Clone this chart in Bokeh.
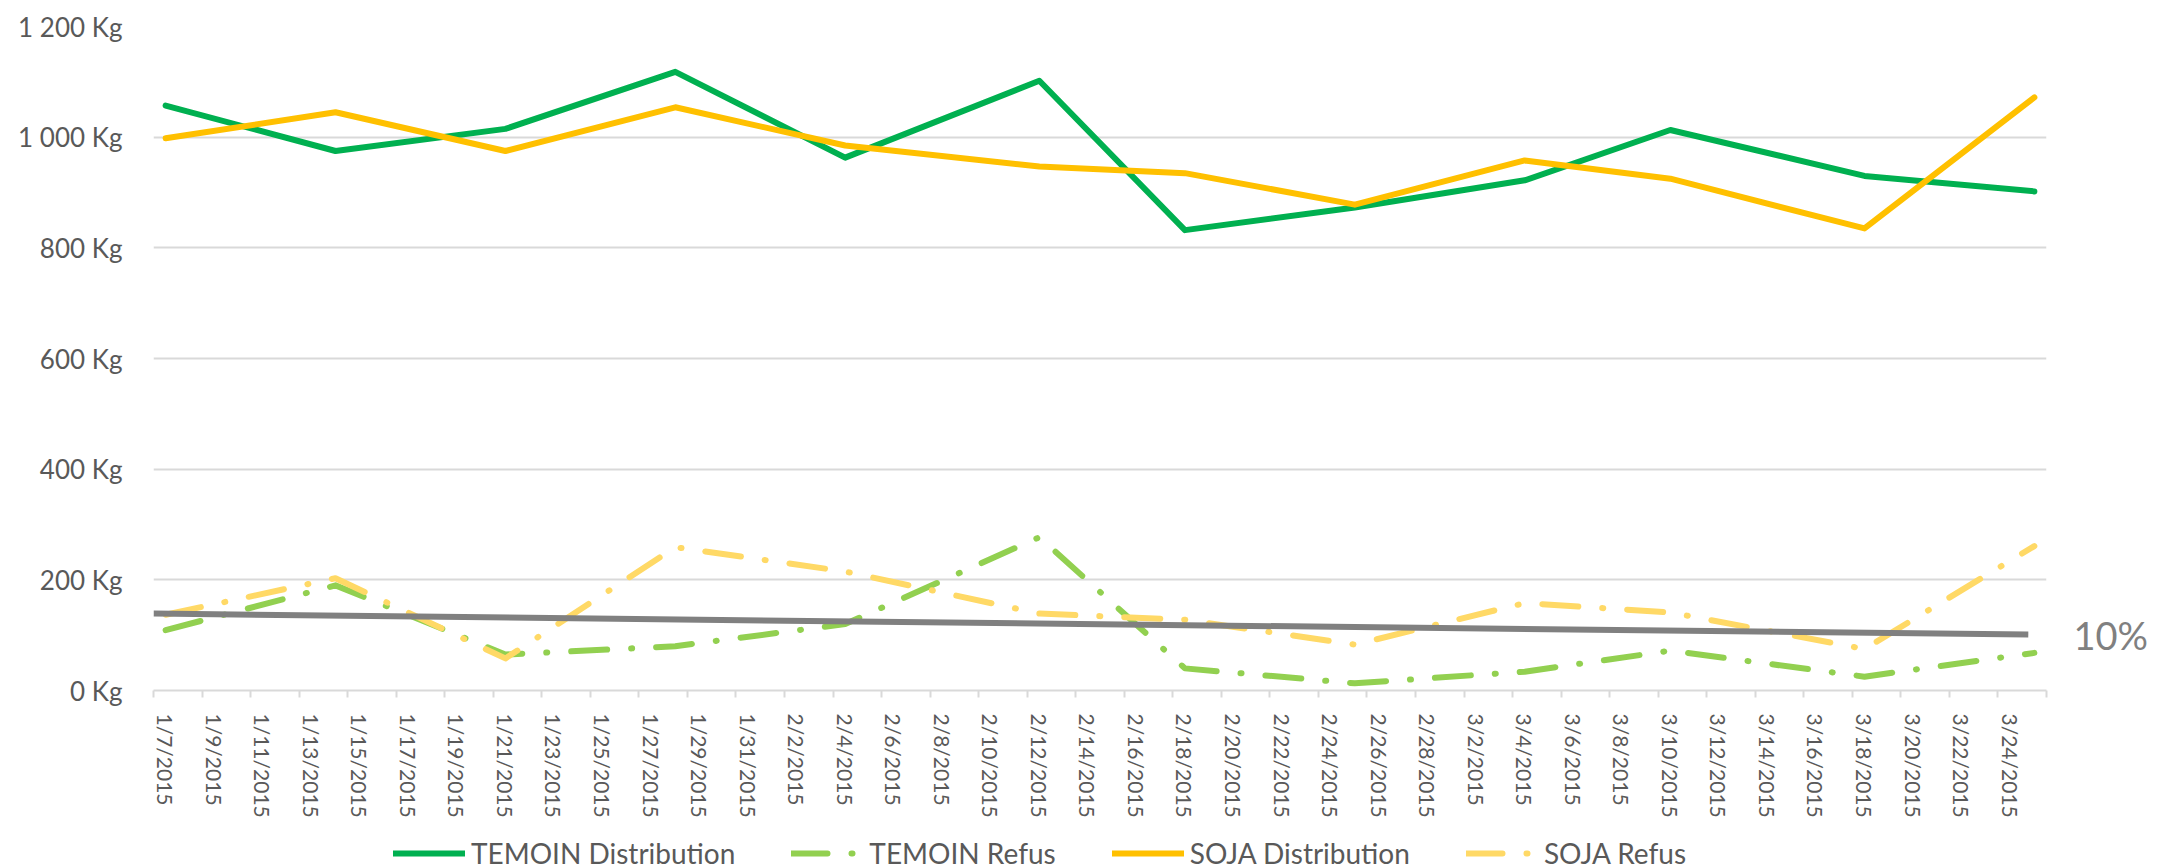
import math
import pandas as pd
from bokeh.plotting import figure
from bokeh.layouts import column
from bokeh.models import FixedTicker, Range1d, Legend, LegendItem, LinearAxis
from bokeh.embed import file_html
from bokeh.resources import INLINE

# ---------------- data ----------------
axis_start = "2015-01-07"
axis_end = "2015-03-25"

dates = ["2015-01-07", "2015-01-14", "2015-01-21", "2015-01-28", "2015-02-04", "2015-02-12",
         "2015-02-18", "2015-02-25", "2015-03-04", "2015-03-10", "2015-03-18", "2015-03-25"]
temoin_distribution = [1057, 975, 1015, 1118, 963, 1102, 832, 873, 922, 1013, 930, 902]
temoin_refus = [109, 190, 65, 80, 120, 277, 40, 13, 34, 72, 25, 68]
soja_distribution = [998, 1045, 975, 1054, 985, 947, 935, 878, 958, 925, 835, 1072]
soja_refus = [137, 203, 58, 259, 215, 139, 128, 83, 158, 141, 75, 261]

trend_dates = ["2015-01-06 12:00", "2015-03-24 18:00"]
trend_values = [139, 101]
trend_label = "10%"

y_ticks = [0, 200, 400, 600, 800, 1000, 1200]
series_names = ["TEMOIN Distribution", "TEMOIN Refus", "SOJA Distribution", "SOJA Refus"]
series_colors = ["#00B050", "#92D050", "#FFC000", "#FFD966"]
DASHDOT = "36 24 1 24"
series_dash = ["solid", DASHDOT, "solid", DASHDOT]
series_values = [temoin_distribution, temoin_refus, soja_distribution, soja_refus]

# ---------------- helpers ----------------
start = pd.Timestamp(axis_start)
n_days = int((pd.Timestamp(axis_end) - start) / pd.Timedelta(days=1)) + 1


def day_index(d):
    return (pd.Timestamp(d) - start) / pd.Timedelta(days=1)


xs = [day_index(d) for d in dates]
trend_x = [day_index(d) for d in trend_dates]

FONT = "Lato"
TXT = "#595959"
W = 2151

p = figure(frame_width=1893, frame_height=664,
           min_border_left=153, min_border_right=105, min_border_top=26, min_border_bottom=128,
           x_range=Range1d(-0.5, n_days - 0.5), y_range=Range1d(0, 1200),
           output_backend="svg", toolbar_location=None)
p.outline_line_color = None
p.background_fill_color = "white"
p.border_fill_color = "white"
p.xgrid.visible = False
p.ygrid.grid_line_color = "#D9D9D9"
p.ygrid.grid_line_width = 2

# y axis
p.yaxis.ticker = FixedTicker(ticks=y_ticks)
p.yaxis.major_label_overrides = {v: f"{v:,}".replace(",", " ") + " Kg" for v in y_ticks}
p.yaxis.axis_line_color = None
p.yaxis.major_tick_line_color = None
p.yaxis.minor_tick_line_color = None
p.yaxis.major_tick_out = 0
p.yaxis.major_tick_in = 0
p.yaxis.major_label_standoff = 31
p.yaxis.major_label_text_font = FONT
p.yaxis.major_label_text_font_size = "26px"
p.yaxis.major_label_text_color = TXT

# x axis: labels every 2 days at day centres, tick marks at day boundaries
label_days = list(range(0, n_days - 1, 2))
boundary_ticks = [d - 0.5 for d in range(0, n_days + 1, 2)]


def fmt_day(d):
    t = start + pd.Timedelta(days=d)
    return f"{t.month}/{t.day}/{t.year}"


p.xaxis.ticker = FixedTicker(ticks=label_days, minor_ticks=boundary_ticks)
p.xaxis.major_label_overrides = {d: fmt_day(d) for d in label_days}
p.xaxis.major_label_orientation = "vertical"
p.xaxis.axis_line_color = "#D9D9D9"
p.xaxis.axis_line_width = 2
p.xaxis.major_tick_line_color = None
p.xaxis.major_tick_out = 0
p.xaxis.major_tick_in = 0
p.xaxis.minor_tick_line_color = "#D9D9D9"
p.xaxis.minor_tick_line_width = 2
p.xaxis.minor_tick_out = 7
p.xaxis.minor_tick_in = 0
p.xaxis.major_label_standoff = 16
p.xaxis.major_label_text_font = FONT
p.xaxis.major_label_text_font_size = "21px"
p.xaxis.major_label_text_color = TXT

for vals, col, dash in zip(series_values, series_colors, series_dash):
    p.line(xs, vals, line_color=col, line_width=6, line_dash=dash,
           line_cap="round", line_join="round")
p.line(trend_x, trend_values, line_color="#808080", line_width=6)

# "10%" label of the trend line, drawn as a right-hand axis label
right = LinearAxis(ticker=FixedTicker(ticks=[trend_values[-1]]),
                   major_label_overrides={trend_values[-1]: trend_label})
right.axis_line_color = None
right.major_tick_line_color = None
right.minor_tick_line_color = None
right.major_tick_out = 0
right.major_tick_in = 0
right.major_label_standoff = 27
right.major_label_text_font = FONT
right.major_label_text_font_size = "38px"
right.major_label_text_color = "#808080"
p.add_layout(right, "right")

# ---------------- legend strip (separate small figure) ----------------
lg = figure(width=W, height=46, min_border=0, x_range=Range1d(0, 1), y_range=Range1d(0, 1),
            x_axis_location=None, y_axis_location=None,
            output_backend="svg", toolbar_location=None)
lg.outline_line_color = None
lg.xgrid.visible = False
lg.ygrid.visible = False
items = []
for name, col, dash in zip(series_names, series_colors, series_dash):
    r = lg.line([math.nan, math.nan], [math.nan, math.nan], line_color=col, line_width=6,
                line_dash=dash, line_cap="round")
    items.append(LegendItem(label=name, renderers=[r]))
legend = Legend(items=items, orientation="horizontal", location=(240, -4),
                glyph_width=72, glyph_height=20, label_standoff=6, spacing=56,
                padding=0, margin=0, border_line_color=None, background_fill_alpha=0,
                label_text_font=FONT, label_text_font_size="28px", label_text_color=TXT)
lg.add_layout(legend)

layout = column(p, lg, spacing=0)
open("out.html", "w").write(file_html(layout, INLINE))
